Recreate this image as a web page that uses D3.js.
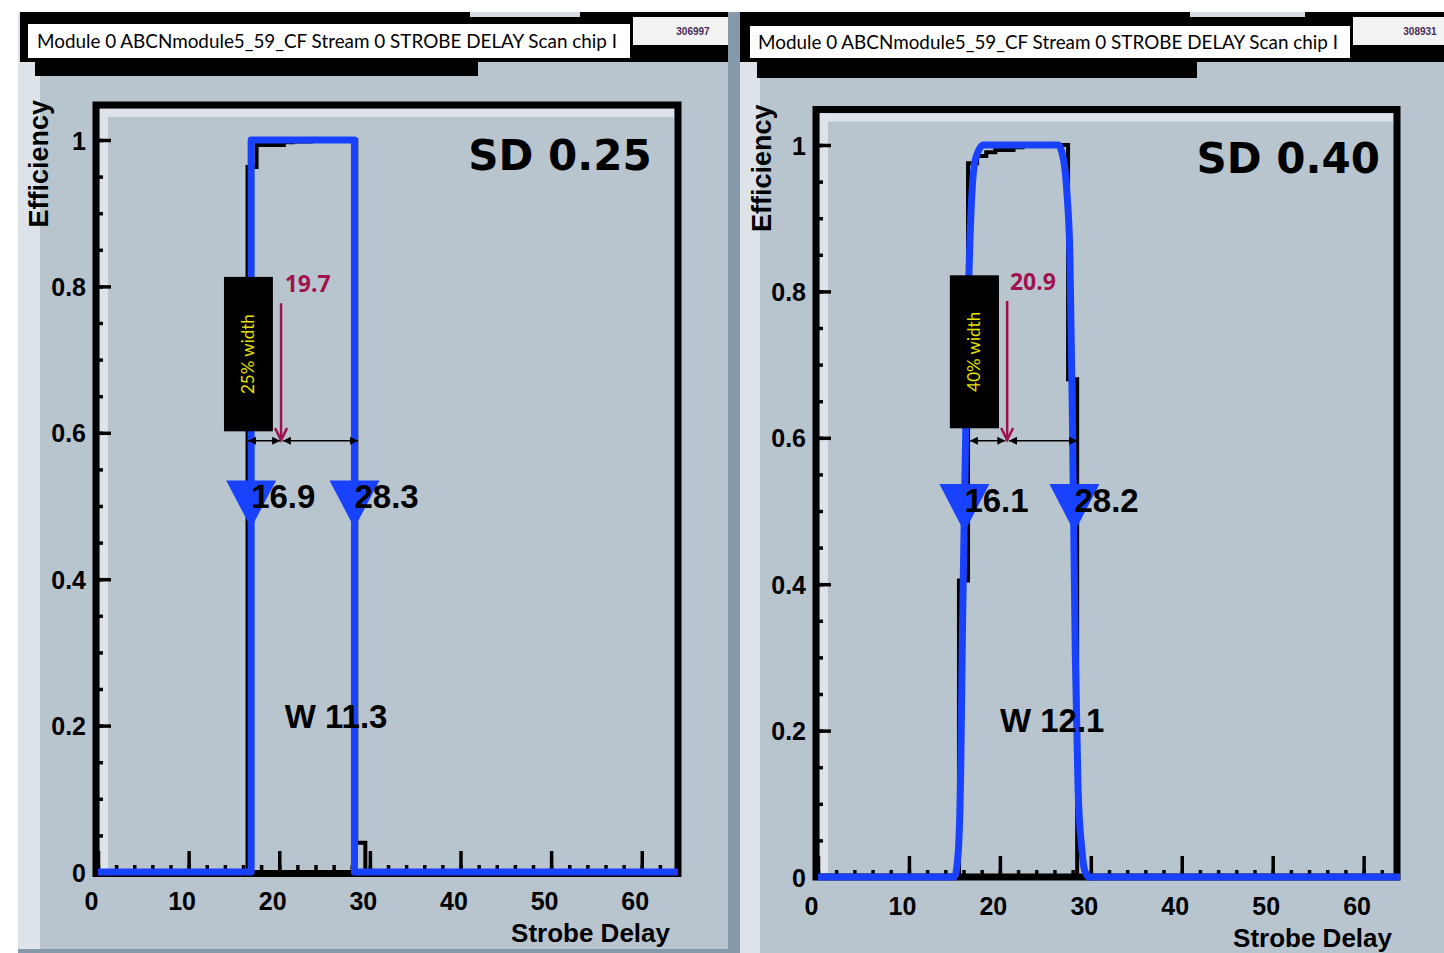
<!DOCTYPE html>
<html><head><meta charset="utf-8">
<script src="https://cdn.jsdelivr.net/npm/d3@7"></script>
<style>body{margin:0;background:#fff}svg{display:block}</style>
</head><body>
<svg id="c" width="1444" height="953"></svg>
<script>
// ---------------- data ----------------
const xTickValues = [0, 10, 20, 30, 40, 50, 60];
const xTickLabels = ["0", "10", "20", "30", "40", "50", "60"];
const yTickValues = [0, 0.2, 0.4, 0.6, 0.8, 1];
const yTickLabels = ["0", "0.2", "0.4", "0.6", "0.8", "1"];
const xTitle = "Strobe Delay";
const yTitle = "Efficiency";
const titleText = "Module 0 ABCNmodule5_59_CF Stream 0 STROBE DELAY Scan chip I";
const runNumbers = ["306997", "308931"];
const sdLabels = ["SD 0.25", "SD 0.40"];
const widthLabels = ["25% width", "40% width"];
const midLabels = ["19.7", "20.9"];
const edgeLow = [16.9, 16.1];
const edgeHigh = [28.3, 28.2];
const edgeLowLabels = ["16.9", "16.1"];
const edgeHighLabels = ["28.3", "28.2"];
const fitWidthLabels = ["W 11.3", "W 12.1"];

// efficiency per strobe-delay bin (bins centred on 0..63)
const leftEff = [0,0,0,0,0,0,0,0,0,0, 0,0,0,0,0,0,0,0.963,0.993,0.993,
                 0.993,0.997,0.998,0.998,1,1,1,1,1,0.04, 0,0,0,0,0,0,0,0,0,0,
                 0,0,0,0,0,0,0,0,0,0, 0,0,0,0,0,0,0,0,0,0, 0,0,0,0];
const rightEff = [0,0,0,0,0,0,0,0,0,0, 0,0,0,0,0,0,0.405,0.975,0.985,0.99,
                  0.993,0.993,0.997,1,1,1,1,1,0.68,0, 0,0,0,0,0,0,0,0,0,0,
                  0,0,0,0,0,0,0,0,0,0, 0,0,0,0,0,0,0,0,0,0, 0,0,0,0];

// fitted curves
const leftFitX = [0, 16.9, 16.9, 28.3, 28.3, 64];
const leftFitY = [0, 0, 1, 1, 0, 0];
const rightFitX = [0, 15.0, 15.4, 15.7, 15.9, 16.1, 16.4, 16.8, 17.3, 18.2, 26.4, 27.0, 27.4, 27.7, 27.95, 28.1, 28.3, 28.6, 29.0, 29.3, 29.8, 64];
const rightFitY = [0, 0, 0.03, 0.15, 0.35, 0.5, 0.72, 0.9, 0.98, 1.0, 1.0, 0.98, 0.93, 0.85, 0.65, 0.5, 0.3, 0.12, 0.04, 0.01, 0, 0];

// ---------------- drawing ----------------
const svg = d3.select("#c");
const BG = "#b8c5cf", LIGHT = "#dde3e8", DARK = "#8599aa";
const BLUE = "#1842ff", MAROON = "#a1114e", YEL = "#e6e000";

svg.append("rect").attr("width", 1444).attr("height", 953).attr("fill", "#fff");

const panels = [
  { i: 0, eff: leftEff, fx: leftFitX, fy: leftFitY, curve: d3.curveLinear,
    xr: [98, 678], yr: [872, 140], frame: [96, 105, 678, 873.5],
    bg: [40, 728], strips: [[18, 22, LIGHT]], bottomLine: true,
    head: { black: [20, 738], title: [28, 630, 24, 58], small: [633, 730], gray: [470, 580], under: [35, 478, 76], titleX: [37, 617], runX: 693 },
    eTitleX: 48 },
  { i: 1, eff: rightEff, fx: rightFitX, fy: rightFitY, curve: d3.curveMonotoneX,
    xr: [818, 1400], yr: [877, 145], frame: [816, 109.5, 1397, 877],
    bg: [760, 1444], strips: [[728, 12, DARK], [740, 20, LIGHT]], bottomLine: false,
    head: { black: [740, 1444], title: [750, 1350, 26, 58], small: [1353, 1444], gray: [1190, 1305], under: [757, 1197, 78], titleX: [758, 1338], runX: 1420 },
    eTitleX: 771 }
];

panels.forEach(p => {
  const g = svg.append("g");
  // background
  g.append("rect").attr("x", p.bg[0]).attr("y", 12).attr("width", p.bg[1] - p.bg[0]).attr("height", 941).attr("fill", BG);
  p.strips.forEach(s => g.append("rect").attr("x", s[0]).attr("y", 12).attr("width", s[1]).attr("height", 941).attr("fill", s[2]));
  if (p.bottomLine) g.append("rect").attr("x", 18).attr("y", 949).attr("width", 710).attr("height", 4).attr("fill", DARK);

  // header
  const h = p.head;
  g.append("rect").attr("x", h.black[0]).attr("y", 12).attr("width", h.black[1] - h.black[0]).attr("height", 50).attr("fill", "#000");
  g.append("rect").attr("x", h.gray[0]).attr("y", 12).attr("width", h.gray[1] - h.gray[0]).attr("height", 5).attr("fill", "#d6dce1");
  g.append("rect").attr("x", h.under[0]).attr("y", 56).attr("width", h.under[1] - h.under[0]).attr("height", h.under[2] - 56).attr("fill", "#000");
  g.append("rect").attr("x", h.title[0]).attr("y", h.title[2]).attr("width", h.title[1] - h.title[0]).attr("height", h.title[3] - h.title[2]).attr("fill", "#fff");
  g.append("rect").attr("x", h.small[0]).attr("y", 17).attr("width", h.small[1] - h.small[0]).attr("height", 28).attr("fill", "#f3f3f3");
  g.append("text").attr("x", h.titleX[0]).attr("y", (h.title[2] + h.title[3]) / 2 + 7)
    .attr("font-family", "Lato, 'Open Sans', sans-serif").attr("font-size", 19)
    .attr("textLength", h.titleX[1] - h.titleX[0]).attr("lengthAdjust", "spacingAndGlyphs")
    .text(titleText);
  g.append("text").attr("x", h.runX).attr("y", 35).attr("text-anchor", "middle")
    .attr("font-family", "'Liberation Sans', sans-serif").attr("font-size", 10).attr("font-weight", "bold").attr("fill", "#4a2a55")
    .text(runNumbers[p.i]);

  // scales
  const x = d3.scaleLinear().domain([0, 64]).range(p.xr);
  const y = d3.scaleLinear().domain([0, 1]).range(p.yr);
  const [fl, ft, fr, fb] = p.frame;

  // frame inner light strips
  g.append("rect").attr("x", fl + 4).attr("y", ft + 4).attr("width", 8).attr("height", fb - ft - 8).attr("fill", LIGHT);
  g.append("rect").attr("x", fl + 4).attr("y", ft + 4).attr("width", fr - fl - 8).attr("height", 8).attr("fill", LIGHT);
  g.append("rect").attr("x", fl).attr("y", ft).attr("width", fr - fl).attr("height", fb - ft)
    .attr("fill", "none").attr("stroke", "#000").attr("stroke-width", 7);

  // x axis ticks (drawn upward)
  const xMinor = d3.range(0, 64, 2);
  const xAx = g.append("g").attr("transform", `translate(0,${y(0)})`);
  xAx.call(d3.axisBottom(x).tickValues(xMinor).tickSize(-7).tickFormat(""));
  xAx.append("g").call(d3.axisBottom(x).tickValues(xTickValues).tickSize(-21)
      .tickFormat((d, k) => xTickLabels[k]));
  xAx.selectAll(".domain").remove();
  xAx.selectAll("line").attr("stroke", "#000").attr("stroke-width", 3.5);
  xAx.selectAll("text").attr("fill", "#000").attr("font-family", "'Liberation Sans', Arial, sans-serif")
    .attr("font-weight", "bold").attr("font-size", 25).attr("dx", -7).attr("y", 30).attr("dy", "0.32em");

  // y axis ticks (drawn rightward)
  const yMinor = d3.range(0, 1.0001, 0.05);
  const yAx = g.append("g").attr("transform", `translate(${fl},0)`);
  yAx.call(d3.axisRight(y).tickValues(yMinor).tickSize(7).tickFormat(""));
  yAx.append("g").call(d3.axisRight(y).tickValues(yTickValues).tickSize(15)
      .tickFormat((d, k) => yTickLabels[k]));
  yAx.selectAll(".domain").remove();
  yAx.selectAll("line").attr("stroke", "#000").attr("stroke-width", 3.5);
  yAx.selectAll("text").attr("fill", "#000").attr("font-family", "'Liberation Sans', Arial, sans-serif")
    .attr("font-weight", "bold").attr("font-size", 25).attr("text-anchor", "end").attr("x", -10).attr("dy", "0.36em");

  // axis titles
  g.append("text").attr("x", x(64) - 8).attr("y", y(0) + 70).attr("text-anchor", "end")
    .attr("font-family", "'Liberation Sans', Arial, sans-serif").attr("font-weight", "bold").attr("font-size", 26)
    .text(xTitle);
  g.append("text").attr("transform", `translate(${p.eTitleX},${ft - 5}) rotate(-90)`).attr("text-anchor", "end")
    .attr("font-family", "'Liberation Sans', Arial, sans-serif").attr("font-weight", "bold").attr("font-size", 27)
    .text(yTitle);

  // histogram steps
  const pts = [];
  p.eff.forEach((v, k) => { pts.push([Math.max(0, k - 0.5), v]); pts.push([Math.min(64, k + 0.5), v]); });
  g.append("path").attr("d", d3.line().x(d => x(d[0])).y(d => y(d[1]))(pts))
    .attr("fill", "none").attr("stroke", "#000").attr("stroke-width", 4);

  // fit curve
  const fit = p.fx.map((v, k) => [v, p.fy[k]]);
  g.append("path").attr("d", d3.line().curve(p.curve).x(d => x(d[0])).y(d => y(d[1]))(fit))
    .attr("fill", "none").attr("stroke", BLUE).attr("stroke-width", 7).attr("stroke-linejoin", "round");

  // annotations ---------------------------------------------------
  const bx0 = x(p.i ? 14.5 : 13.9), bx1 = x(p.i ? 19.9 : 19.3);
  const by0 = y(p.i ? 0.822 : 0.813), by1 = y(p.i ? 0.613 : 0.602);
  g.append("rect").attr("x", bx0).attr("y", by0).attr("width", bx1 - bx0).attr("height", by1 - by0).attr("fill", "#000");
  g.append("text").attr("transform", `translate(${(bx0 + bx1) / 2 + 6},${(by0 + by1) / 2}) rotate(-90)`)
    .attr("text-anchor", "middle").attr("font-family", "Lato, sans-serif").attr("font-size", 17).attr("fill", YEL)
    .text(widthLabels[p.i]);

  const ax = x(p.i ? 20.8 : 20.2);
  const ayTop = y(p.i ? 0.787 : 0.777), ayBot = y(p.i ? 0.597 : 0.59);
  g.append("text").attr("x", x(p.i ? 21.1 : 20.6)).attr("y", y(p.i ? 0.802 : 0.792))
    .attr("font-family", "'Open Sans', sans-serif").attr("font-weight", "bold").attr("font-size", 23).attr("fill", MAROON)
    .text(midLabels[p.i]);
  g.append("line").attr("x1", ax).attr("x2", ax).attr("y1", ayTop).attr("y2", ayBot)
    .attr("stroke", MAROON).attr("stroke-width", 2.5);
  g.append("path").attr("d", `M${ax - 6},${ayBot - 12}L${ax},${ayBot}L${ax + 6},${ayBot - 12}`)
    .attr("fill", "none").attr("stroke", MAROON).attr("stroke-width", 2.5);

  const dy = y(p.i ? 0.596 : 0.589);
  const segs = p.i ? [[16.7, 20.6], [21.0, 28.5]] : [[16.55, 20.1], [20.4, 28.7]];
  segs.forEach(s => {
    const a = x(s[0]), b = x(s[1]);
    g.append("line").attr("x1", a).attr("x2", b).attr("y1", dy).attr("y2", dy).attr("stroke", "#000").attr("stroke-width", 1.5);
    g.append("path").attr("d", `M${a},${dy}L${a + 8},${dy - 4}L${a + 8},${dy + 4}Z M${b},${dy}L${b - 8},${dy - 4}L${b - 8},${dy + 4}Z`).attr("fill", "#000");
  });

  const tTop = y(p.i ? 0.537 : 0.535), tApex = y(p.i ? 0.471 : 0.47);
  [[edgeLow[p.i], edgeLowLabels[p.i]], [edgeHigh[p.i], edgeHighLabels[p.i]]].forEach(e => {
    const cx = x(e[0]);
    g.append("path").attr("d", `M${cx - 25},${tTop}L${cx + 25},${tTop}L${cx},${tApex}Z`).attr("fill", BLUE);
    g.append("text").attr("x", cx).attr("y", y(p.i ? 0.499 : 0.497))
      .attr("font-family", "'Liberation Sans', Arial, sans-serif").attr("font-weight", "bold").attr("font-size", 33)
      .attr("fill", "#000").text(e[1]);
  });

  g.append("text").attr("x", x(p.i ? 20.0 : 20.6)).attr("y", y(p.i ? 0.198 : 0.197))
    .attr("font-family", "'Liberation Sans', Arial, sans-serif").attr("font-weight", "bold").attr("font-size", 33)
    .text(fitWidthLabels[p.i]);

  g.append("text").attr("x", x(p.i ? 61.8 : 61.1)).attr("y", y(p.i ? 0.962 : 0.959)).attr("text-anchor", "end")
    .attr("font-family", "'DejaVu Sans', sans-serif").attr("font-weight", "bold").attr("font-size", 42)
    .text(sdLabels[p.i]);
});
</script>
</body></html>
